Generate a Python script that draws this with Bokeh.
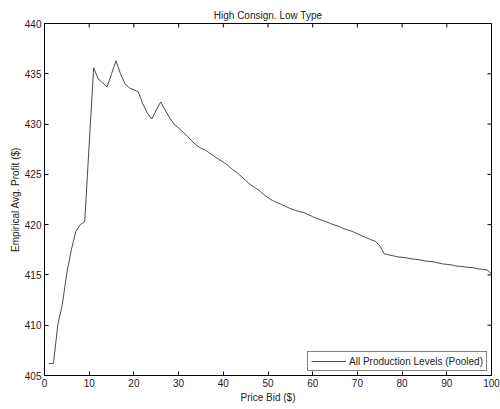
import math
from bokeh.plotting import figure
from bokeh.models import FixedTicker, Range1d
from bokeh.embed import file_html
from bokeh.resources import INLINE

price_bid = list(range(1, 101))
avg_profit = [
    406.2, 406.2, 410.1, 412.1, 415.2, 417.5, 419.3, 420.0, 420.3, 428.0,
    435.6, 434.5, 434.1, 433.7, 435.0, 436.3, 435.0, 434.0, 433.6, 433.4,
    433.2, 432.0, 431.1, 430.5, 431.4, 432.2, 431.4, 430.6, 430.0, 429.6,
    429.2, 428.8, 428.3, 427.9, 427.6, 427.4, 427.1, 426.8, 426.5, 426.2,
    425.9, 425.5, 425.2, 424.8, 424.4, 424.0, 423.7, 423.4, 423.0, 422.7,
    422.4, 422.2, 422.0, 421.8, 421.6, 421.45, 421.3, 421.2, 421.0, 420.8,
    420.6, 420.45, 420.3, 420.1, 419.95, 419.8, 419.6, 419.45, 419.3, 419.1,
    418.9, 418.7, 418.5, 418.35, 417.9, 417.1, 417.0, 416.9, 416.8, 416.75,
    416.7, 416.6, 416.55, 416.5, 416.4, 416.35, 416.3, 416.2, 416.1, 416.05,
    416.0, 415.9, 415.85, 415.8, 415.75, 415.7, 415.6, 415.55, 415.5, 415.1,
]
x_ticks = [0, 10, 20, 30, 40, 50, 60, 70, 80, 90, 100]
y_ticks = [405, 410, 415, 420, 425, 430, 435, 440]
x_min, x_max = 0, 100
y_min, y_max = 405, 440

FONT = "Liberation Sans"
FS = "10px"
TXT = "#222222"

p = figure(width=500, height=409, x_range=Range1d(x_min, x_max), y_range=Range1d(y_min, y_max),
           output_backend="svg", toolbar_location=None,
           min_border_left=44, min_border_right=9, min_border_top=23, min_border_bottom=34)
p.title.text = "High Consign. Low Type"
p.title.align = "center"
p.title.text_font = FONT
p.title.text_font_size = FS
p.title.text_font_style = "normal"
p.title.text_color = TXT
p.title.standoff = 6
p.xgrid.visible = False
p.ygrid.visible = False
p.outline_line_color = "black"
p.background_fill_color = "white"
p.border_fill_color = "white"

for ax in (p.xaxis[0], p.yaxis[0]):
    ax.major_tick_in = 4
    ax.major_tick_out = 0
    ax.minor_tick_line_color = None
    ax.axis_line_color = "black"
    ax.major_tick_line_color = "black"
    ax.major_label_text_font = FONT
    ax.major_label_text_font_size = FS
    ax.major_label_text_color = TXT
    ax.axis_label_text_font = FONT
    ax.axis_label_text_font_size = FS
    ax.axis_label_text_font_style = "normal"
    ax.axis_label_text_color = TXT

p.xaxis.ticker = FixedTicker(ticks=x_ticks)
p.yaxis.ticker = FixedTicker(ticks=y_ticks)
p.xaxis.axis_label = "Price Bid ($)"
p.yaxis.axis_label = "Empirical Avg. Profit ($)"
p.xaxis.major_label_standoff = 3
p.xaxis.axis_label_standoff = 2
p.yaxis.major_label_standoff = 3
p.yaxis.axis_label_standoff = 1

# inward ticks on the top and right edges (MATLAB box style)
p.ray(x=x_ticks, y=[y_max] * len(x_ticks), length=4, length_units="screen",
      angle=-math.pi / 2, line_color="black", line_width=1)
p.ray(x=[x_max] * len(y_ticks), y=y_ticks, length=4, length_units="screen",
      angle=math.pi, line_color="black", line_width=1)

p.line(price_bid, avg_profit, line_color="#4a4a4a", line_width=1,
       legend_label="All Production Levels (Pooled)")

lg = p.legend[0]
lg.location = "bottom_right"
lg.border_line_color = "black"
lg.border_line_width = 1
lg.margin = 4
lg.padding = 3
lg.spacing = 0
lg.label_text_font = FONT
lg.label_text_font_size = FS
lg.label_text_color = TXT
lg.label_height = 12
lg.glyph_height = 12
lg.glyph_width = 35
lg.label_standoff = 3
lg.background_fill_alpha = 1

open("out.html", "w").write(file_html(p, INLINE))
